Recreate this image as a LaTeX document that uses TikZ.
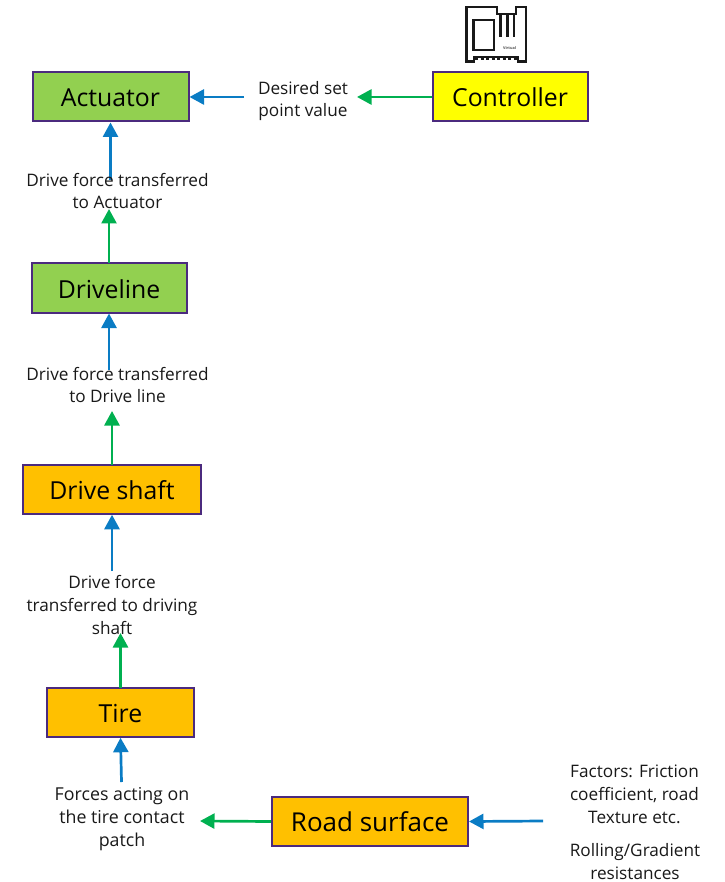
\documentclass[tikz,border=0pt]{standalone}
\usepackage{fontspec}
\setmainfont{Open Sans}
\usetikzlibrary{arrows.meta}
\definecolor{boxline}{HTML}{4B2A7E}
\definecolor{greenfill}{HTML}{92D050}
\definecolor{orangefill}{HTML}{FFC000}
\definecolor{yellowfill}{HTML}{FFFF00}
\definecolor{bluearrow}{HTML}{0A7CC4}
\definecolor{greenarrow}{HTML}{00B050}
\newcommand{\blocktext}[1]{\raisebox{-10pt}[0pt][0pt]{#1}}
\tikzset{
  x=1pt,y=-1pt,
  block/.style={draw=boxline,line width=2pt,inner sep=0pt,font=\fontsize{24.8}{28}\selectfont,text=black},
  lbl/.style={align=center,font=\fontsize{17.2}{22.9}\selectfont,text=black!90,inner sep=0pt},
  conn/.style={line width=2.7pt},
  blueconn/.style={conn,draw=bluearrow,-{Triangle[length=14.5pt,width=15pt,fill=bluearrow]}},
  greenconn/.style={conn,draw=greenarrow,-{Triangle[length=14.5pt,width=15pt,fill=greenarrow]}},
  chip/.style={line width=2.6pt,draw=black!90,fill=none},
}
\begin{document}
\begin{tikzpicture}
\useasboundingbox (0,0) rectangle (724,882);
% blocks
\node[block,fill=greenfill,minimum width=156pt,minimum height=49pt] (act) at (110.5,97) {\blocktext{Actuator}};
\node[block,fill=greenfill,minimum width=155pt,minimum height=49pt] (dl) at (109,288) {\blocktext{Driveline}};
\node[block,fill=orangefill,minimum width=178pt,minimum height=48.5pt] (ds) at (112,489.5) {\blocktext{Drive shaft}};
\node[block,fill=orangefill,minimum width=147pt,minimum height=48.5pt] (tire) at (120.5,712.5) {\blocktext{Tire}};
\node[block,fill=orangefill,minimum width=196pt,minimum height=48.5pt] (road) at (370,821.5) {\blocktext{\fontsize{26}{28}\selectfont Road surface}};
\node[block,fill=yellowfill,minimum width=155pt,minimum height=49pt] (ctrl) at (510,97) {\blocktext{Controller}};
% free ends
\coordinate (eact) at (110.5,180);
\coordinate (bdl) at (109,263);
\coordinate (edl) at (109,370);
\coordinate (bds) at (112,465);
\coordinate (eds) at (112,571);
\coordinate (btire) at (120.5,688);
\coordinate (etire) at (121.5,782);
\coordinate (efac) at (543,821);
\coordinate (gact) at (109,209);
\coordinate (gdl) at (112,411);
\coordinate (gds) at (120.5,633);
\coordinate (gset) at (357,97);
\coordinate (bset) at (244,97);
\coordinate (gtire) at (200,821);
% connectors
\draw[blueconn] (bset) -- (act.east);
\draw[greenconn] (ctrl.west) -- (gset);
\draw[blueconn] (eact) -- (act.south);
\draw[greenconn] (bdl) -- (gact);
\draw[blueconn] (edl) -- (dl.south);
\draw[greenconn] (bds) -- (gdl);
\draw[blueconn] (eds) -- (ds.south);
\draw[greenconn] (btire) -- (gds);
\draw[blueconn] (etire) -- (tire.south);
\draw[greenconn] (road.west) -- (gtire);
\draw[blueconn] (efac) -- (road.east);
% labels
\node[lbl] (lset) at (303,101) {Desired set\\point value};
\node[lbl] (lact) at (117.5,191) {Drive force transferred\\to Actuator};
\node[lbl] (ldl) at (117.5,385) {Drive force transferred\\to Drive line};
\node[lbl] (lds) at (112,605) {Drive force\\transferred to driving\\shaft};
\node[lbl,font=\fontsize{17.8}{22.9}\selectfont] (ltire) at (122,819) {Forces acting on\\the tire contact\\patch};
\node[lbl] (lfac) at (634.5,794) {Factors: Friction\\coefficient, road\\Texture etc.};
\node[lbl] (lrol) at (635,861.5) {Rolling/Gradient\\resistances};
% virtual controller icon
\draw[chip] (466.5,7) -- (497,7) -- (497,14) -- (516,14) -- (516,7) -- (526,7) -- (526,61.5) -- (518,61.5) -- (518,57) -- (474,57) -- (474,61.5) -- (466.5,61.5) -- cycle;
\draw[chip] (473.5,20) rectangle (494,50);
\draw[chip] (500.5,14) -- (500.5,37);
\draw[chip] (507.5,14) -- (507.5,37);
\draw[chip] (514,14) -- (514,37);
\draw[chip,line width=1.6pt,dash pattern=on 3pt off 2.5pt] (475,59) -- (518,59);
\node[inner sep=0pt,font=\fontsize{3.8}{4}\selectfont\bfseries,text=black!70] (virt) at (509.5,48) {Virtual};
\end{tikzpicture}
\end{document}
